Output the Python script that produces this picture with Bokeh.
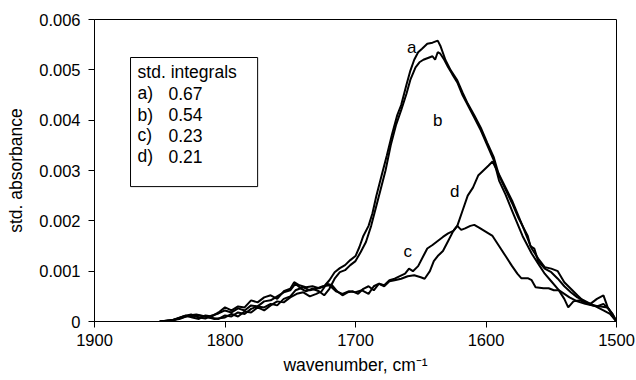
from bokeh.plotting import figure
from bokeh.models import Range1d, FixedTicker, BoxAnnotation, Label
from bokeh.core.properties import value
from bokeh.embed import file_html
from bokeh.resources import INLINE

# ---------------- data ----------------
wn_a = [1850, 1840, 1830, 1825, 1820, 1815, 1810, 1805, 1800, 1795, 1790, 1785,
        1780, 1775, 1770, 1765, 1760, 1755, 1750, 1747, 1743, 1738, 1733, 1728,
        1724, 1720, 1716, 1712, 1708, 1704, 1700, 1697, 1694, 1690, 1687, 1684,
        1680, 1676, 1672, 1668, 1665, 1661, 1658, 1655, 1652, 1649, 1645, 1641,
        1637, 1635, 1631, 1627, 1622, 1618, 1614, 1609, 1604, 1599, 1594, 1590,
        1585, 1580, 1575, 1571, 1568, 1566, 1563, 1560, 1555, 1550, 1545, 1540,
        1535, 1530, 1525, 1520, 1515, 1510, 1506, 1502, 1500]
abs_a = [0.0, 0.00003, 0.00012, 0.00008, 0.00005, 0.00012, 0.0001, 0.00018,
         0.00028, 0.00022, 0.0003, 0.00028, 0.00042, 0.00038, 0.00048, 0.00052,
         0.00045, 0.0006, 0.00065, 0.00078, 0.00072, 0.00068, 0.0007, 0.00066,
         0.0007, 0.00082, 0.00098, 0.00106, 0.00112, 0.00122, 0.0013, 0.00148,
         0.0017, 0.0019, 0.00215, 0.0025, 0.0029, 0.0033, 0.00372, 0.0041, 0.0043,
         0.0047, 0.00498, 0.0052, 0.00535, 0.00542, 0.00552, 0.00554, 0.00558,
         0.00548, 0.00519, 0.00499, 0.00479, 0.00455, 0.00433, 0.0041, 0.00385,
         0.00355, 0.00326, 0.0029, 0.00262, 0.00235, 0.00205, 0.00185, 0.0017,
         0.0015, 0.00145, 0.0012, 0.00105, 0.00098, 0.00085, 0.0007, 0.00058,
         0.00048, 0.00042, 0.00035, 0.0003, 0.00035, 0.00025, 0.0001, 0.0]

wn_b = [1850, 1840, 1832, 1826, 1820, 1815, 1810, 1805, 1800, 1795, 1790, 1785,
        1780, 1775, 1770, 1765, 1760, 1755, 1750, 1746, 1742, 1738, 1733, 1728,
        1724, 1720, 1716, 1712, 1708, 1704, 1700, 1696, 1692, 1688, 1685, 1681,
        1677, 1673, 1669, 1665, 1661, 1658, 1654, 1651, 1648, 1644, 1641, 1639,
        1637, 1635, 1632, 1629, 1626, 1622, 1618, 1614, 1609, 1604, 1599, 1594,
        1590, 1585, 1580, 1572, 1565, 1560, 1555, 1550, 1545, 1540, 1537, 1533,
        1528, 1522, 1516, 1510, 1505, 1500]
abs_b = [0.0, 0.00002, 0.0001, 0.00014, 0.00008, 0.00006, 0.00012, 0.00016,
         0.00022, 0.00018, 0.00026, 0.00022, 0.00032, 0.0003, 0.0004, 0.00042,
         0.0005, 0.00058, 0.00062, 0.00075, 0.00066, 0.0006, 0.00065, 0.0006,
         0.00052, 0.00065, 0.00085, 0.00098, 0.00102, 0.00112, 0.0012, 0.00138,
         0.00158, 0.0019, 0.0022, 0.0026, 0.003, 0.0035, 0.0039, 0.0042, 0.00452,
         0.0048, 0.00505, 0.00515, 0.0052, 0.00524, 0.00527, 0.0052, 0.00535,
         0.00532, 0.0052, 0.00505, 0.00492, 0.00475, 0.0045, 0.0043, 0.00405,
         0.0038, 0.0035, 0.0032, 0.0028, 0.00252, 0.0022, 0.0017, 0.00135,
         0.00115, 0.00095, 0.0008, 0.00065, 0.00045, 0.00028, 0.0004, 0.00042,
         0.00035, 0.0003, 0.00022, 0.00015, 0.0]

wn_c = [1850, 1842, 1835, 1828, 1822, 1815, 1808, 1800, 1795, 1790, 1785, 1780,
        1775, 1770, 1765, 1760, 1755, 1750, 1745, 1740, 1735, 1730, 1726, 1722,
        1718, 1714, 1710, 1706, 1702, 1698, 1694, 1690, 1686, 1682, 1678, 1674,
        1670, 1666, 1662, 1659, 1656, 1652, 1648, 1645, 1641, 1637, 1633, 1629,
        1625, 1622, 1619, 1616, 1612, 1609, 1605, 1600, 1595, 1590, 1585, 1580,
        1576, 1573, 1568, 1565, 1562, 1556, 1552, 1548, 1544, 1540, 1536, 1530,
        1524, 1518, 1512, 1507, 1503, 1500]
abs_c = [0.0, 0.00002, 0.00005, 0.00012, 0.00014, 0.0001, 0.00005, 0.00008,
         0.00015, 0.0001, 0.0002, 0.00018, 0.00028, 0.00022, 0.00032, 0.0004,
         0.00038, 0.00048, 0.00055, 0.00058, 0.0005, 0.00055, 0.0006, 0.00075,
         0.00072, 0.0006, 0.00052, 0.00058, 0.0006, 0.00055, 0.00065, 0.0007,
         0.00062, 0.00075, 0.00072, 0.00082, 0.00085, 0.0009, 0.00095, 0.00105,
         0.001, 0.0011, 0.0013, 0.00145, 0.00152, 0.0016, 0.00168, 0.00175,
         0.0018, 0.0019, 0.00182, 0.00185, 0.0019, 0.00192, 0.00186, 0.00178,
         0.0017, 0.0015, 0.0013, 0.0011, 0.00095, 0.00086, 0.00086, 0.00082,
         0.00068, 0.00066, 0.00066, 0.00062, 0.00062, 0.00055, 0.00048, 0.0004,
         0.00035, 0.00032, 0.0003, 0.00028, 0.00015, 0.0]

wn_d = [1850, 1840, 1830, 1820, 1812, 1805, 1800, 1795, 1790, 1785, 1780, 1775,
        1770, 1765, 1760, 1755, 1750, 1746, 1740, 1735, 1730, 1725, 1720, 1715,
        1710, 1705, 1700, 1695, 1690, 1686, 1682, 1678, 1674, 1670, 1665, 1660,
        1655, 1650, 1647, 1643, 1640, 1637, 1633, 1629, 1625, 1622, 1618, 1614,
        1610, 1606, 1602, 1598, 1595, 1590, 1580, 1572, 1565, 1560, 1555, 1550,
        1545, 1540, 1535, 1530, 1525, 1520, 1515, 1510, 1507, 1503, 1500]
abs_d = [0.0, 0.00003, 0.0001, 0.00012, 0.00008, 0.00005, 0.00012, 0.0001,
         0.00018, 0.00015, 0.00025, 0.0003, 0.00028, 0.00035, 0.00032, 0.00045,
         0.0005, 0.00062, 0.00068, 0.00062, 0.00065, 0.0007, 0.00072, 0.0006,
         0.00055, 0.0006, 0.00058, 0.00062, 0.00055, 0.0007, 0.00075, 0.0007,
         0.0008, 0.00082, 0.00085, 0.0009, 0.00092, 0.00088, 0.00085, 0.001,
         0.0012, 0.0013, 0.0014, 0.0016, 0.0018, 0.0019, 0.0022, 0.0025, 0.00266,
         0.0029, 0.003, 0.0031, 0.00318, 0.00292, 0.0024, 0.0019, 0.00145,
         0.00125, 0.00108, 0.00105, 0.001, 0.00078, 0.00065, 0.00052, 0.0004,
         0.00035, 0.00045, 0.00052, 0.0003, 0.0001, 0.0]

curve_names = ["a", "b", "c", "d"]
curve_label_x = [1657, 1637, 1660, 1624]
curve_label_y = [0.00544, 0.0040, 0.00139, 0.00258]

legend_title = "std. integrals"
legend_keys = ["a)", "b)", "c)", "d)"]
legend_values = ["0.67", "0.54", "0.23", "0.21"]

x_ticks = [1900, 1800, 1700, 1600, 1500]
y_ticks = [0, 0.001, 0.002, 0.003, 0.004, 0.005, 0.006]
y_tick_labels = ["0", "0.001", "0.002", "0.003", "0.004", "0.005", "0.006"]

FONT = "Liberation Sans"

p = figure(width=636, height=380, output_backend="svg", toolbar_location=None,
           x_range=Range1d(1900, 1500), y_range=Range1d(0, 0.006),
           min_border_left=94, min_border_right=20, min_border_top=19,
           min_border_bottom=59)
p.background_fill_color = "white"
p.border_fill_color = "white"
p.outline_line_color = "black"
p.outline_line_width = 1
p.xgrid.visible = False
p.ygrid.visible = False

for ax in (p.xaxis[0], p.yaxis[0]):
    ax.axis_line_color = "black"
    ax.major_tick_line_color = "black"
    ax.minor_tick_line_color = None
    ax.major_tick_in = 0
    ax.major_tick_out = 6
    ax.major_label_text_font = FONT
    ax.major_label_text_font_size = "16.5px"
    ax.major_label_text_color = "black"
    ax.axis_label_text_font = FONT
    ax.axis_label_text_font_size = "17.5px"
    ax.axis_label_text_font_style = "normal"
    ax.axis_label_text_color = "black"

p.xaxis.ticker = FixedTicker(ticks=x_ticks)
p.xaxis.major_label_overrides = {t: str(t) for t in x_ticks}
p.xaxis.major_label_standoff = 6
p.xaxis.axis_label = "wavenumber, cm⁻¹"
p.xaxis.axis_label_standoff = 6

p.yaxis.ticker = FixedTicker(ticks=y_ticks)
p.yaxis.major_label_overrides = dict(zip(y_ticks, y_tick_labels))
p.yaxis.major_label_standoff = 8
p.yaxis.axis_label = "std. absorbance"
p.yaxis.axis_label_standoff = 10

for wn, ab in ((wn_a, abs_a), (wn_b, abs_b), (wn_c, abs_c), (wn_d, abs_d)):
    p.line(wn, ab, line_color="black", line_width=2)

p.text(x=curve_label_x, y=curve_label_y, text=curve_names,
       text_font=value(FONT), text_font_size="17px", text_color="black",
       text_align="center", text_baseline="middle")

# legend box with integrals
p.add_layout(BoxAnnotation(left=1872.4, right=1775, top=0.005245, bottom=0.00268,
                           fill_color="white", fill_alpha=1.0,
                           line_color="black", line_alpha=1.0, line_width=1,
                           level="overlay"))
p.add_layout(Label(x=1867, y=0.00495, text=legend_title, text_font=FONT,
                   text_font_size="17.5px", text_baseline="middle",
                   text_color="black", level="overlay"))
row_y = [0.00453, 0.00411, 0.0037, 0.00328]
for key, val, yy in zip(legend_keys, legend_values, row_y):
    p.add_layout(Label(x=1867, y=yy, text=key, text_font=FONT,
                       text_font_size="17.5px", text_baseline="middle",
                       text_color="black", level="overlay"))
    p.add_layout(Label(x=1843.3, y=yy, text=val, text_font=FONT,
                       text_font_size="17.5px", text_baseline="middle",
                       text_color="black", level="overlay"))

open("out.html", "w").write(file_html(p, INLINE))
